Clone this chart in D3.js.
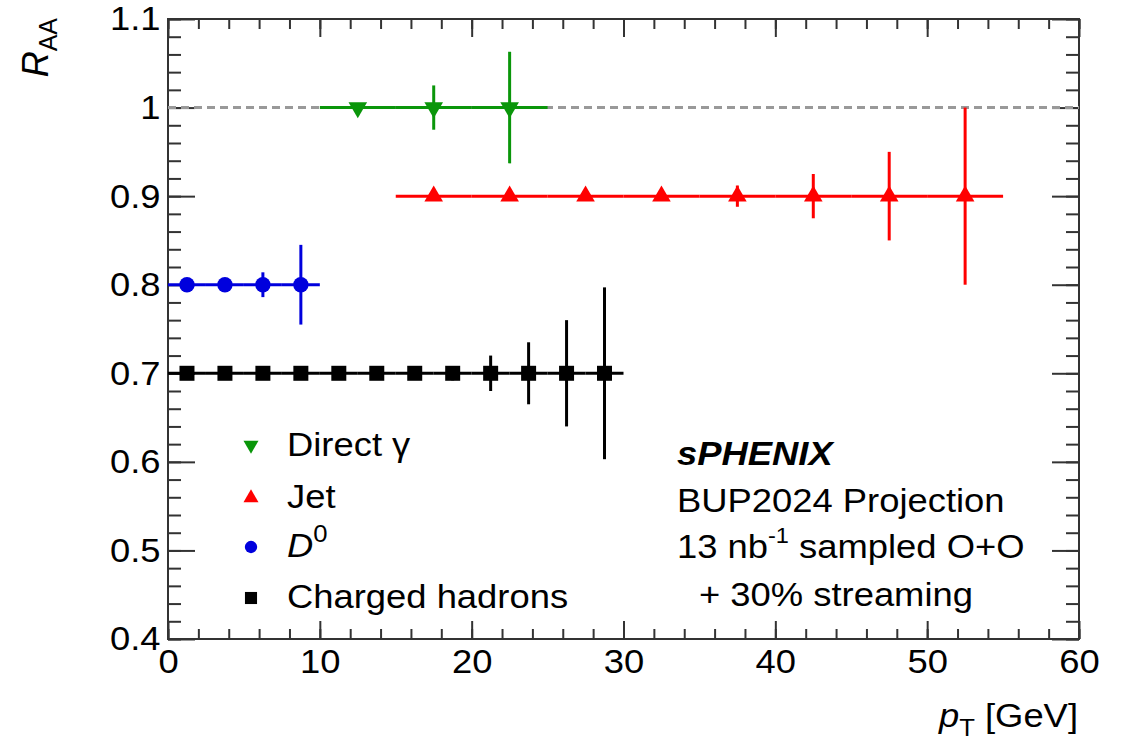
<!DOCTYPE html>
<html><head><meta charset="utf-8">
<script src="https://cdn.jsdelivr.net/npm/d3@7"></script>
<style>
html,body{margin:0;padding:0;background:#fff;}
text{font-family:"Liberation Sans",Arial,Helvetica,sans-serif;}
</style></head>
<body><svg id="c" width="1126" height="748"></svg>
<script>
// ---- data ----
const gammaX  = [12.5, 17.5, 22.5];
const gammaY  = [1.0, 1.0, 1.0];
const gammaEx = [2.5, 2.5, 2.5];
const gammaEy = [0.004, 0.025, 0.063];

const jetX  = [17.5, 22.5, 27.5, 32.5, 37.5, 42.5, 47.5, 52.5];
const jetY  = [0.9, 0.9, 0.9, 0.9, 0.9, 0.9, 0.9, 0.9];
const jetEx = [2.5, 2.5, 2.5, 2.5, 2.5, 2.5, 2.5, 2.5];
const jetEy = [0.003, 0.003, 0.003, 0.003, 0.012, 0.025, 0.05, 0.1];

const d0X  = [1.25, 3.75, 6.25, 8.75];
const d0Y  = [0.8, 0.8, 0.8, 0.8];
const d0Ex = [1.25, 1.25, 1.25, 1.25];
const d0Ey = [0.003, 0.004, 0.014, 0.045];

const hadX  = [1.25, 3.75, 6.25, 8.75, 11.25, 13.75, 16.25, 18.75, 21.25, 23.75, 26.25, 28.75];
const hadY  = [0.7, 0.7, 0.7, 0.7, 0.7, 0.7, 0.7, 0.7, 0.7, 0.7, 0.7, 0.7];
const hadEx = [1.25, 1.25, 1.25, 1.25, 1.25, 1.25, 1.25, 1.25, 1.25, 1.25, 1.25, 1.25];
const hadEy = [0.002, 0.002, 0.002, 0.002, 0.002, 0.002, 0.003, 0.008, 0.02, 0.035, 0.06, 0.097];

const xTicks = [0, 10, 20, 30, 40, 50, 60];
const xTickLabels = ["0", "10", "20", "30", "40", "50", "60"];
const yTicks = [0.4, 0.5, 0.6, 0.7, 0.8, 0.9, 1.0, 1.1];
const yTickLabels = ["0.4", "0.5", "0.6", "0.7", "0.8", "0.9", "1", "1.1"];

const legendLabels = ["Direct γ", "Jet", "D0", "Charged hadrons"];
const infoLines = ["sPHENIX", "BUP2024 Projection", "13 nb-1 sampled O+O", "+ 30% streaming"];

// ---- layout ----
const L = 168, R = 1079, T = 19, B = 639;
const FS = 34;
const SX = 1.07;
const svg = d3.select("#c");
const x = d3.scaleLinear().domain([0, 60]).range([L, R]);
const y = d3.scaleLinear().domain([0.4, 1.1]).range([B, T]);
const axisCol = "#333";

function place(sel, px, py){
  return sel.attr("transform", `translate(${px},${py}) scale(${SX},1)`);
}

// minor ticks
const xMinor = d3.range(0, 60.001, 2);
const yMinor = d3.range(0.4, 1.1001, 0.02);

function styleAxis(g){
  g.select(".domain").remove();
  g.selectAll(".tick line").attr("stroke", axisCol).attr("stroke-width", 2);
  g.selectAll("text").attr("font-size", FS).attr("fill", "#000")
    .attr("font-family", '"Liberation Sans",Arial,sans-serif')
    .attr("transform", `scale(${SX},1)`);
}
// bottom
svg.append("g").attr("transform", `translate(0,${B})`)
  .call(d3.axisBottom(x).tickValues(xMinor).tickSize(-10).tickFormat(""))
  .call(styleAxis);
svg.append("g").attr("transform", `translate(0,${B})`)
  .call(d3.axisBottom(x).tickValues(xTicks).tickSize(-18).tickPadding(10)
        .tickFormat((d,i)=>xTickLabels[i]))
  .call(styleAxis);
// top
svg.append("g").attr("transform", `translate(0,${T})`)
  .call(d3.axisTop(x).tickValues(xMinor).tickSize(-10).tickFormat(""))
  .call(styleAxis);
svg.append("g").attr("transform", `translate(0,${T})`)
  .call(d3.axisTop(x).tickValues(xTicks).tickSize(-18).tickFormat(""))
  .call(styleAxis);
// left
svg.append("g").attr("transform", `translate(${L},0)`)
  .call(d3.axisLeft(y).tickValues(yMinor).tickSize(-13).tickFormat(""))
  .call(styleAxis);
svg.append("g").attr("transform", `translate(${L},0)`)
  .call(d3.axisLeft(y).tickValues(yTicks).tickSize(-27).tickPadding(7)
        .tickFormat((d,i)=>yTickLabels[i]))
  .call(styleAxis);
// right
svg.append("g").attr("transform", `translate(${R},0)`)
  .call(d3.axisRight(y).tickValues(yMinor).tickSize(-13).tickFormat(""))
  .call(styleAxis);
svg.append("g").attr("transform", `translate(${R},0)`)
  .call(d3.axisRight(y).tickValues(yTicks).tickSize(-27).tickFormat(""))
  .call(styleAxis);

// frame
svg.append("rect").attr("x", L).attr("y", T).attr("width", R-L).attr("height", B-T)
  .attr("fill", "none").attr("stroke", axisCol).attr("stroke-width", 2);

// reference line at 1
svg.append("line").attr("x1", x(0)).attr("x2", x(60)).attr("y1", y(1)).attr("y2", y(1))
  .attr("stroke", "#999").attr("stroke-width", 3).attr("stroke-dasharray", "8,5");

// ---- series ----
const series = [
  {X: gammaX, Y: gammaY, Ex: gammaEx, Ey: gammaEy, col: "#0a960a", sym: d3.symbolTriangle, rot: 180, size: 150},
  {X: jetX, Y: jetY, Ex: jetEx, Ey: jetEy, col: "#ff0000", sym: d3.symbolTriangle, rot: 0, size: 150},
  {X: d0X, Y: d0Y, Ex: d0Ex, Ey: d0Ey, col: "#0000dd", sym: d3.symbolCircle, rot: 0, size: 185},
  {X: hadX, Y: hadY, Ex: hadEx, Ey: hadEy, col: "#000000", sym: d3.symbolSquare, rot: 0, size: 225}
];

series.forEach(s => {
  const g = svg.append("g");
  const pts = s.X.map((xv, i) => ({x: xv, y: s.Y[i], ex: s.Ex[i], ey: s.Ey[i]}));
  g.selectAll("line.h").data(pts).join("line")
    .attr("x1", d => x(d.x - d.ex)).attr("x2", d => x(d.x + d.ex))
    .attr("y1", d => y(d.y)).attr("y2", d => y(d.y))
    .attr("stroke", s.col).attr("stroke-width", 3);
  g.selectAll("line.v").data(pts).join("line")
    .attr("x1", d => x(d.x)).attr("x2", d => x(d.x))
    .attr("y1", d => y(d.y - d.ey)).attr("y2", d => y(d.y + d.ey))
    .attr("stroke", s.col).attr("stroke-width", 3);
  g.selectAll("path").data(pts).join("path")
    .attr("d", d3.symbol().type(s.sym).size(s.size))
    .attr("transform", d => `translate(${x(d.x)},${y(d.y)}) rotate(${s.rot})`)
    .attr("fill", s.col);
});

// ---- legend ----
const legY = [445, 498, 547, 598];
const legBase = [456, 508, 557, 608];
const leg = svg.append("g");
series.forEach((s, i) => {
  leg.append("path").attr("d", d3.symbol().type(s.sym).size(s.size * 0.65))
    .attr("transform", `translate(251,${legY[i]}) rotate(${s.rot})`).attr("fill", s.col);
});
place(leg.append("text"), 287, legBase[0]).attr("font-size", FS).text(legendLabels[0]);
place(leg.append("text"), 287, legBase[1]).attr("font-size", FS).text(legendLabels[1]);
const d0t = place(leg.append("text"), 287, legBase[2]).attr("font-size", FS);
d0t.append("tspan").attr("font-style", "italic").text(legendLabels[2].slice(0,1));
d0t.append("tspan").attr("font-size", 24).attr("dy", -15).text(legendLabels[2].slice(1));
place(leg.append("text"), 287, legBase[3]).attr("font-size", FS).text(legendLabels[3]);

// ---- info text ----
place(svg.append("text"), 677, 465).attr("font-size", FS)
  .attr("font-weight", "bold").attr("font-style", "italic").text(infoLines[0]);
place(svg.append("text"), 677, 512).attr("font-size", FS).text(infoLines[1]);
const t3 = place(svg.append("text"), 677, 558).attr("font-size", FS);
t3.append("tspan").text("13 nb");
t3.append("tspan").attr("font-size", 22).attr("dy", -15).text("-1");
t3.append("tspan").attr("dy", 15).text(" sampled O+O");
place(svg.append("text"), 699, 606).attr("font-size", FS).text(infoLines[3]);

// ---- axis titles ----
const yt = svg.append("text").attr("transform", "translate(48,18) rotate(-90)")
  .attr("x", 0).attr("y", 0).attr("text-anchor", "end").attr("font-size", 36);
yt.append("tspan").attr("font-style", "italic").text("R");
yt.append("tspan").attr("font-size", 25).attr("dy", 9).text("AA");

const xt = place(svg.append("text"), 1078, 727).attr("text-anchor", "end").attr("font-size", FS);
xt.append("tspan").attr("font-style", "italic").text("p");
xt.append("tspan").attr("font-size", 24).attr("dy", 9).text("T");
xt.append("tspan").attr("dy", -9).text(" [GeV]");
</script></body></html>
